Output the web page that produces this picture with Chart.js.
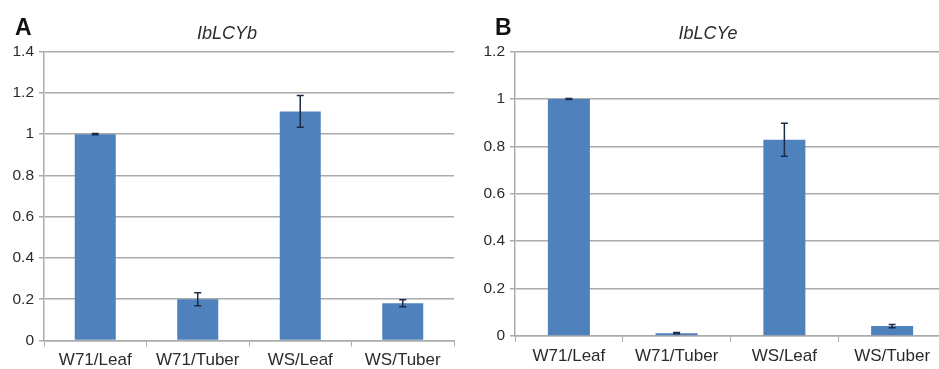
<!DOCTYPE html>
<html>
<head>
<meta charset="utf-8">
<script src="https://cdn.jsdelivr.net/npm/chart.js@4"></script>
<style>
  html, body { margin: 0; padding: 0; background: #fff; overflow: hidden; width: 939px; height: 369px; }
  .panel { position: absolute; top: 0; height: 369px; }
  #pa { left: 0; width: 469px; }
  #pb { left: 470px; width: 476px; }
</style>
</head>
<body>
<div class="panel" id="pa"><canvas id="ca"></canvas></div>
<div class="panel" id="pb"><canvas id="cb"></canvas></div>
<script>
const categories = ['W71/Leaf', 'W71/Tuber', 'WS/Leaf', 'WS/Tuber'];
const lcybValues = [1.0, 0.2, 1.11, 0.18];
const lcybErrors = [0.003, 0.031, 0.077, 0.017];
const lcyeValues = [1.0, 0.012, 0.828, 0.042];
const lcyeErrors = [0.002, 0.003, 0.07, 0.007];
const lcybTitle = 'IbLCYb';
const lcyeTitle = 'IbLCYe';
const lcybYMax = 1.4;
const lcyeYMax = 1.2;
const yStep = 0.2;

const BAR = '#4f81bd';
const GRID = '#ababab';
const TXT = '#2b2b2b';

const errorBars = {
  id: 'errorBars',
  afterDatasetsDraw(chart, args, opts) {
    const ctx = chart.ctx;
    const meta = chart.getDatasetMeta(0);
    const ys = chart.scales.y;
    const vals = chart.data.datasets[0].data;
    const errs = opts.errors || [];
    ctx.save();
    ctx.strokeStyle = '#1d2b45';
    ctx.lineWidth = 1.5;
    meta.data.forEach((bar, i) => {
      const v = vals[i], e = errs[i] || 0;
      const yt = ys.getPixelForValue(v + e);
      const yb = ys.getPixelForValue(v - e);
      const x = bar.x;
      ctx.beginPath();
      ctx.moveTo(x, yt); ctx.lineTo(x, yb);
      ctx.moveTo(x - 3.5, yt); ctx.lineTo(x + 3.5, yt);
      ctx.moveTo(x - 3.5, yb); ctx.lineTo(x + 3.5, yb);
      ctx.stroke();
    });
    ctx.restore();
  }
};

const panelLabel = {
  id: 'panelLabel',
  afterDraw(chart, args, opts) {
    const ctx = chart.ctx;
    ctx.save();
    ctx.fillStyle = '#111';
    ctx.font = 'bold 23px "Liberation Sans", Arial, sans-serif';
    ctx.textBaseline = 'alphabetic';
    ctx.fillText(opts.text, opts.x, opts.y);
    ctx.restore();
  }
};

function makeChart(id, values, errors, title, yMax, yWidth, rightPad, bottomH, catPct, label, labelX) {
  return new Chart(document.getElementById(id), {
    type: 'bar',
    data: {
      labels: categories,
      datasets: [{
        data: values,
        backgroundColor: BAR,
        borderWidth: 0,
        barPercentage: 1,
        categoryPercentage: catPct
      }]
    },
    options: {
      responsive: true,
      maintainAspectRatio: false,
      animation: false,
      events: [],
      layout: { padding: { top: 0, right: rightPad, bottom: 0, left: 0 } },
      plugins: {
        legend: { display: false },
        tooltip: { enabled: false },
        title: {
          display: true,
          text: title,
          color: TXT,
          font: { family: '"Liberation Sans", Arial, sans-serif', size: 18, style: 'italic', weight: 'normal' },
          padding: { top: 23, bottom: 7 }
        },
        errorBars: { errors: errors },
        panelLabel: { text: label, x: labelX, y: 35 }
      },
      scales: {
        x: {
          offset: true,
          grid: { display: true, drawOnChartArea: false, drawTicks: true, tickLength: 6, color: GRID, offset: true },
          border: { display: true, color: GRID, width: 1.5 },
          ticks: {
            color: TXT,
            padding: 4,
            font: { family: '"Liberation Sans", Arial, sans-serif', size: 17 },
            maxRotation: 0, autoSkip: false
          },
          afterFit(s) { s.height = bottomH; }
        },
        y: {
          min: 0, max: yMax,
          grid: { color: GRID, lineWidth: 1.5, tickLength: 5 },
          border: { display: true, color: GRID, width: 1.5 },
          ticks: {
            stepSize: yStep,
            color: TXT,
            padding: 5,
            font: { family: '"Liberation Sans", Arial, sans-serif', size: 15.5 },
            callback: v => String(+(+v).toFixed(1))
          },
          afterFit(s) { s.width = yWidth; }
        }
      }
    },
    plugins: [errorBars, panelLabel]
  });
}

makeChart('ca', lcybValues, lcybErrors, lcybTitle, lcybYMax, 44, 15, 28.5, 0.4, 'A', 15);
makeChart('cb', lcyeValues, lcyeErrors, lcyeTitle, lcyeYMax, 45, 0, 33, 0.39, 'B', 25);
</script>
</body>
</html>
